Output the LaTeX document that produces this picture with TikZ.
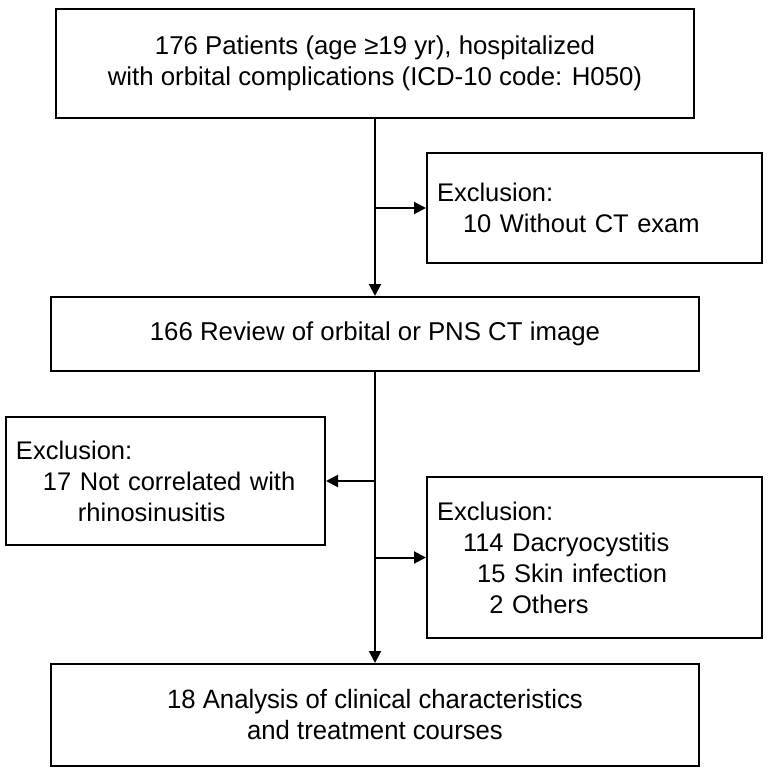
\documentclass[tikz,border=0pt]{standalone}
\usepackage{fontspec}
\setmainfont{Liberation Sans}
\newfontfamily\condfont{Liberation Sans}[FakeStretch=0.97]
\usepackage{tikz}
\usetikzlibrary{calc, arrows.meta}
\tikzstyle{stage} = [rectangle, draw=black, line width=2pt, align=center, anchor=north west, font=\fontsize{25.8}{31}\selectfont]
\tikzstyle{exclude} = [rectangle, draw=black, line width=2pt, align=left, anchor=north west, inner xsep=10pt, font=\fontsize{25.5}{31}\selectfont]
\tikzstyle{flow} = [line width=2pt, -{Triangle[length=12pt, width=12pt]}]

\begin{document}
\begin{tikzpicture}[x=1pt, y=-1pt]

        \useasboundingbox (0,0) rectangle (770,776);

        \node (patients) [stage, minimum width=638pt, minimum height=109pt] at (55,8) {176 Patients (age ≥19 yr), hospitalized\\with orbital complications (ICD-10 code: H050)};
        \node (noct) [exclude, text width=315pt, minimum height=110pt] at (426,152) {Exclusion:\\\hspace*{26pt}10 Without CT exam};

        \node (review) [stage, minimum width=648pt, minimum height=74pt] at (50,296) {166 Review of orbital or PNS CT image};

        \node (notrhino) [exclude, text width=299pt, minimum height=128pt] at (5,416) {Exclusion:\\\hspace*{27pt}17 Not correlated with\\\hspace*{62pt}rhinosinusitis};
        \node (others) [exclude, text width=315pt, minimum height=161pt] at (426,476) {Exclusion:\\\hspace*{26pt}114 Dacryocystitis\\\hspace*{26pt}\phantom{1}15 Skin infection\\\hspace*{26pt}\phantom{11}2 Others};

        \node (analysis) [stage, minimum width=648pt, minimum height=102pt, font=\condfont\fontsize{26.5}{31}\selectfont] at (50,663) {18 Analysis of clinical characteristics\\and treatment courses};

        \coordinate (split1) at (patients.south |- noct.west);
        \coordinate (split2) at (review.south |- notrhino.east);
        \coordinate (split3) at (review.south |- others.west);

        \draw [flow] (patients.south) -- (review.north);
        \draw [flow] (split1) -- (noct.west);
        \draw [flow] (review.south) -- (analysis.north);
        \draw [flow] (split2) -- (notrhino.east);
        \draw [flow] (split3) -- (others.west);

    \end{tikzpicture}
\end{document}
